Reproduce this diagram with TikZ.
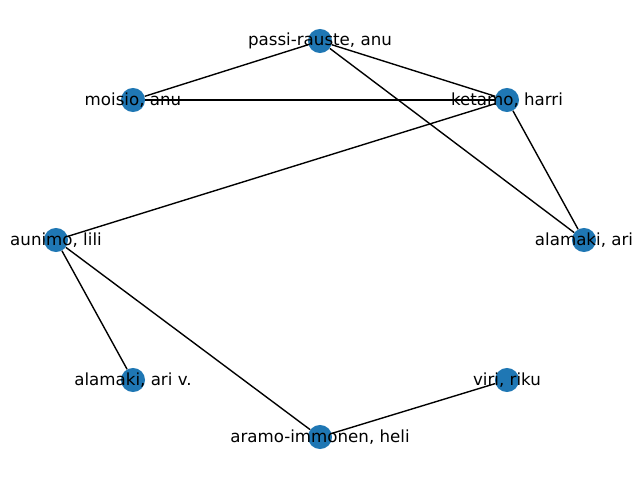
\documentclass[tikz,border=0pt]{standalone}
\usepackage{fontspec}
\setmainfont{DejaVu Sans}
\definecolor{nodeblue}{HTML}{1F77B4}
\begin{document}
\begin{tikzpicture}[x=0.72pt,y=-0.72pt,
  vert/.style={circle,fill=nodeblue,draw=none,inner sep=0pt,minimum size=17.32pt},
  lbl/.style={inner sep=0pt,font=\fontsize{12pt}{14pt}\selectfont},
  edge/.style={draw=black,line width=1pt}]
\useasboundingbox (0,0) rectangle (640,480);
\node[vert] (pr) at (320,41) {};
\node[vert] (mo) at (133,100) {};
\node[vert] (ke) at (507,100) {};
\node[vert] (au) at (56,240) {};
\node[vert] (aa) at (584,240) {};
\node[vert] (av) at (133,380) {};
\node[vert] (vr) at (507,380) {};
\node[vert] (ai) at (320,437) {};
\begin{scope}[on background layer/.style={}]
\end{scope}
\draw[edge] (pr) -- (mo);
\draw[edge] (pr) -- (ke);
\draw[edge] (pr) -- (aa);
\draw[edge] (mo) -- (ke);
\draw[edge] (ke) -- (au);
\draw[edge] (ke) -- (aa);
\draw[edge] (au) -- (av);
\draw[edge] (au) -- (ai);
\draw[edge] (ai) -- (vr);
\node[lbl] (lpr) at (pr) {passi-rauste, anu};
\node[lbl] (lmo) at (mo) {moisio, anu};
\node[lbl] (lke) at (ke) {ketamo, harri};
\node[lbl] (lau) at (au) {aunimo, lili};
\node[lbl] (laa) at (aa) {alamaki, ari};
\node[lbl] (lav) at (av) {alamaki, ari v.};
\node[lbl] (lvr) at (vr) {viri, riku};
\node[lbl] (lai) at (ai) {aramo-immonen, heli};
\end{tikzpicture}
\end{document}
